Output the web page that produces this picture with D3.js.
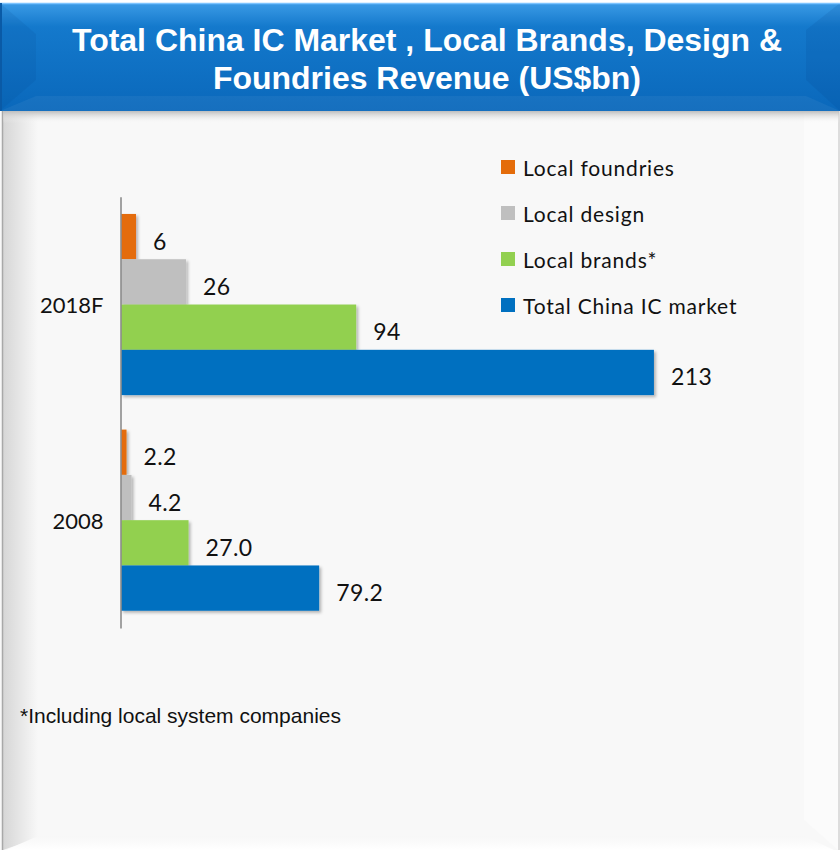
<!DOCTYPE html>
<html>
<head>
<meta charset="utf-8">
<script src="https://cdn.jsdelivr.net/npm/d3@7"></script>
<style>
  html, body { margin: 0; padding: 0; background: #ffffff; }
  svg { display: block; }
</style>
</head>
<body>
<svg id="chart" width="840" height="850"></svg>
<script>
// Revenue by category (US$bn)
const categories = ["2018F", "2008"];
const seriesNames = ["Local foundries", "Local design", "Local brands*", "Total China IC market"];
const localFoundries = [6, 2.2];
const localDesign = [26, 4.2];
const localBrands = [94, 27.0];
const totalMarket = [213, 79.2];
const valueFormats = [".0f", ".1f"];
const seriesColors = ["#E46C0A", "#BFBFBF", "#92D050", "#0070C0"];
const titleLines = ["Total China IC Market , Local Brands, Design &", "Foundries Revenue (US$bn)"];
const footnote = "*Including local system companies";

const seriesValues = [localFoundries, localDesign, localBrands, totalMarket];
const rows = [];
categories.forEach((c, ci) => {
  seriesNames.forEach((s, si) => {
    rows.push({ category: c, series: s, value: seriesValues[si][ci], fmt: valueFormats[ci], color: seriesColors[si] });
  });
});

const W = 840, H = 850;
const svg = d3.select("#chart");
const defs = svg.append("defs");

// ---- panel backgrounds ----
const hdrGrad = defs.append("linearGradient").attr("id", "hdrGrad").attr("x1", 0).attr("y1", 0).attr("x2", 0).attr("y2", 1);
hdrGrad.append("stop").attr("offset", "0%").attr("stop-color", "#3b9be6");
hdrGrad.append("stop").attr("offset", "22%").attr("stop-color", "#1479cc");
hdrGrad.append("stop").attr("offset", "100%").attr("stop-color", "#0a68bb");

const shadowGrad = defs.append("linearGradient").attr("id", "shadowGrad").attr("x1", 0).attr("y1", 0).attr("x2", 0).attr("y2", 1);
shadowGrad.append("stop").attr("offset", "0%").attr("stop-color", "#bdbdbd");
shadowGrad.append("stop").attr("offset", "100%").attr("stop-color", "#f8f8f8").attr("stop-opacity", 0);

const leftGrad = defs.append("linearGradient").attr("id", "leftGrad").attr("x1", 0).attr("y1", 0).attr("x2", 1).attr("y2", 0);
leftGrad.append("stop").attr("offset", "0%").attr("stop-color", "#d6d6d6");
leftGrad.append("stop").attr("offset", "100%").attr("stop-color", "#f8f8f8");

const bottomGrad = defs.append("linearGradient").attr("id", "bottomGrad").attr("x1", 0).attr("y1", 0).attr("x2", 0).attr("y2", 1);
bottomGrad.append("stop").attr("offset", "0%").attr("stop-color", "#f7f7f7");
bottomGrad.append("stop").attr("offset", "100%").attr("stop-color", "#ffffff");

svg.append("rect").attr("x", 0).attr("y", 0).attr("width", W).attr("height", H).attr("fill", "#ffffff");

// body panel with bevelled edges
const bodyTop = 111;
svg.append("rect").attr("x", 0).attr("y", bodyTop).attr("width", W).attr("height", H - bodyTop).attr("fill", "#f8f8f8");
svg.append("path")
  .attr("d", `M3,${bodyTop} L38,${bodyTop} L38,838 L3,850 Z`)
  .attr("fill", "url(#leftGrad)");
svg.append("path")
  .attr("d", `M804,${bodyTop} L838,${bodyTop} L838,850 L804,820 Z`)
  .attr("fill", "#fbfbfb");
svg.append("path")
  .attr("d", `M38,836 L804,836 L834,850 L6,850 Z`)
  .attr("fill", "url(#bottomGrad)");
svg.append("line").attr("x1", 2.5).attr("x2", 2.5).attr("y1", bodyTop).attr("y2", H)
  .attr("stroke", "#a8a8a8").attr("stroke-width", 1.5);
svg.append("line").attr("x1", 839).attr("x2", 839).attr("y1", bodyTop).attr("y2", H)
  .attr("stroke", "#d4d4d4").attr("stroke-width", 1.5);
svg.append("rect").attr("x", 3).attr("y", bodyTop).attr("width", W - 4).attr("height", 12).attr("fill", "url(#shadowGrad)");

// header banner
const hx0 = 0, hx1 = 840, hy0 = 3, hy1 = 111;
svg.append("rect").attr("x", hx0).attr("y", hy0).attr("width", hx1 - hx0).attr("height", hy1 - hy0).attr("fill", "url(#hdrGrad)");
svg.append("path").attr("d", `M${hx0},${hy0} L36,34 L36,80 L${hx0},${hy1} Z`).attr("fill", "#003c80").attr("opacity", 0.10);
svg.append("path").attr("d", `M${hx1},${hy0} L806,30 L806,80 L${hx1},${hy1} Z`).attr("fill", "#003c80").attr("opacity", 0.12);
svg.append("path").attr("d", `M${hx0},${hy1} L36,96 L806,96 L${hx1},${hy1} Z`).attr("fill", "#ffffff").attr("opacity", 0.05);
svg.append("line").attr("x1", hx0).attr("x2", hx1).attr("y1", hy0 + 0.5).attr("y2", hy0 + 0.5).attr("stroke", "#7cc4ff").attr("stroke-width", 1.5);
svg.append("line").attr("x1", hx0 + 1).attr("x2", hx0 + 1).attr("y1", hy0).attr("y2", hy1).attr("stroke", "#0a5aa6").attr("stroke-width", 2);

const titleY = [51, 89];
const titleW = [710, 428];
svg.append("g").selectAll("text").data(titleLines).join("text")
  .attr("x", 427).attr("y", (d, i) => titleY[i])
  .attr("text-anchor", "middle")
  .attr("textLength", (d, i) => titleW[i])
  .attr("lengthAdjust", "spacingAndGlyphs")
  .attr("font-family", "'Liberation Sans', Arial, sans-serif")
  .attr("font-weight", "bold").attr("font-size", 31)
  .attr("fill", "#ffffff")
  .text(d => d);

// ---- bar chart ----
const labelFont = "Lato, 'Open Sans', sans-serif";
const x = d3.scaleLinear().domain([0, 250]).range([121, 746.5]);
const y = d3.scaleBand().domain(categories).range([196.7, 628]).paddingInner(0.16).paddingOuter(0.08);
const ySub = d3.scaleBand().domain(seriesNames).range([0, y.bandwidth()]);

const barShadow = defs.append("filter").attr("id", "barShadow").attr("x", "-5%").attr("y", "-20%").attr("width", "115%").attr("height", "150%");
barShadow.append("feDropShadow").attr("dx", 2).attr("dy", 2).attr("stdDeviation", 1.8).attr("flood-color", "#000").attr("flood-opacity", 0.28);

const bars = svg.append("g").attr("filter", "url(#barShadow)");
bars.selectAll("rect").data(rows).join("rect")
  .attr("x", x(0))
  .attr("y", d => y(d.category) + ySub(d.series))
  .attr("width", d => x(d.value) - x(0))
  .attr("height", ySub.bandwidth())
  .attr("fill", d => d.color);

svg.append("g").selectAll("text").data(rows).join("text")
  .attr("x", d => x(d.value) + 17)
  .attr("y", d => y(d.category) + ySub(d.series) + ySub.bandwidth() / 2 + 4)
  .attr("dominant-baseline", "central")
  .attr("font-family", labelFont).attr("font-size", 23).attr("letter-spacing", 0.4).attr("fill", "#111")
  .text(d => d3.format(d.fmt)(d.value));

const yAxis = svg.append("g").attr("transform", `translate(${x(0) - 0.5},0)`)
  .call(d3.axisLeft(y).tickSize(0).tickPadding(17));
yAxis.select(".domain").attr("stroke", "#8c8c8c").attr("stroke-width", 1.6);
yAxis.selectAll("text").attr("font-family", labelFont).attr("font-size", 22).attr("fill", "#111").attr("dy", "0.4em");

// ---- legend ----
const legend = svg.append("g").selectAll("g").data(seriesNames).join("g")
  .attr("transform", (d, i) => `translate(501, ${160 + i * 46})`);
legend.append("rect").attr("width", 14).attr("height", 14).attr("fill", (d, i) => seriesColors[i]);
legend.append("text").attr("x", 22).attr("y", 7).attr("dominant-baseline", "central")
  .attr("font-family", labelFont).attr("font-size", 21).attr("letter-spacing", 0.8).attr("fill", "#111")
  .text(d => d);

// ---- footnote ----
svg.append("text").attr("x", 20).attr("y", 723)
  .attr("font-family", "'Liberation Sans', Arial, sans-serif").attr("font-size", 21).attr("fill", "#111")
  .text(footnote);
</script>
</body>
</html>
